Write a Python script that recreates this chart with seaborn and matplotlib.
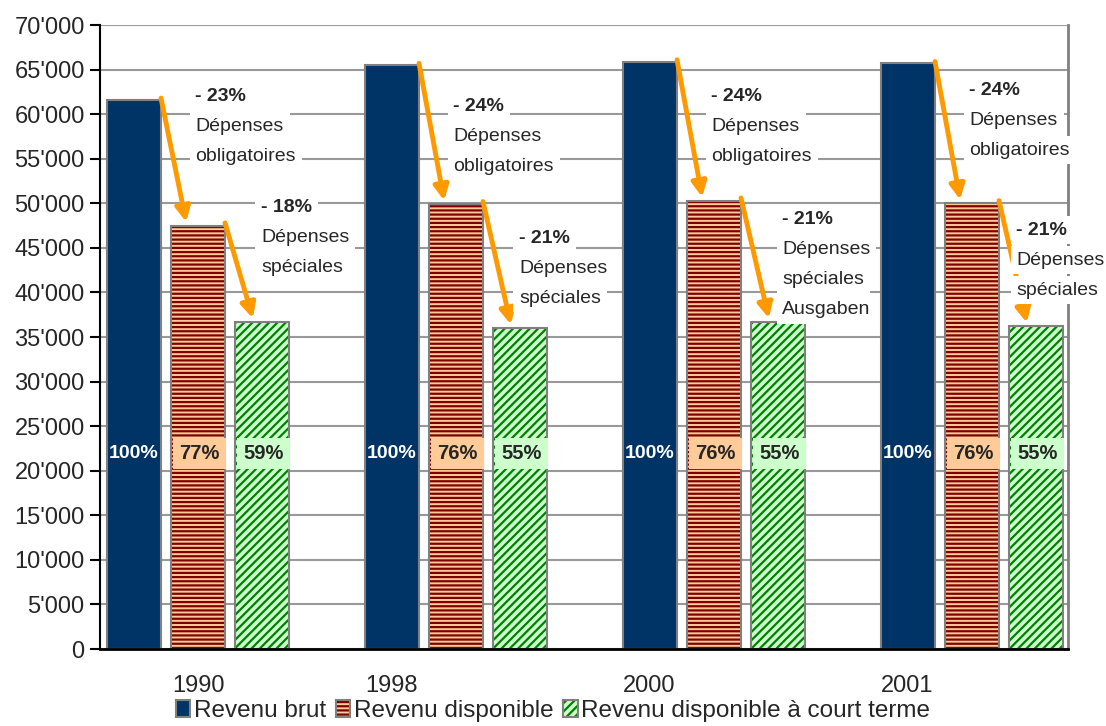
import matplotlib
matplotlib.use("Agg")
import matplotlib.pyplot as plt
import matplotlib.colors as mcolors
from matplotlib.patches import Patch
from matplotlib.ticker import FuncFormatter, MultipleLocator
import pandas as pd
import seaborn as sns

years = ["1990", "1998", "2000", "2001"]
series = ["Revenu brut", "Revenu disponible", "Revenu disponible à court terme"]
revenu_brut = [61600, 65500, 65900, 65700]
revenu_dispo = [47500, 49900, 50300, 50000]
revenu_court = [36700, 36000, 36700, 36200]

pct_brut = ["100%", "100%", "100%", "100%"]
pct_dispo = ["77%", "76%", "76%", "76%"]
pct_court = ["59%", "55%", "55%", "55%"]
baisse_oblig = ["- 23%", "- 24%", "- 24%", "- 24%"]
baisse_spec = ["- 18%", "- 21%", "- 21%", "- 21%"]
texte_oblig = [["Dépenses", "obligatoires"]] * 4
texte_spec = [["Dépenses", "spéciales"], ["Dépenses", "spéciales"],
              ["Dépenses", "spéciales", "Ausgaben"], ["Dépenses", "spéciales"]]

# layout of the annotations (data units)
oblig_y = [62000, 60900, 62000, 62700]
spec_y = [49500, 46100, 48200, 47000]
spec_dx = [0.245, 0.245, 0.265, 0.172]
pct_y = 21900

navy = "#003366"
peach = "#FFCC99"
dark_red = "#800000"
light_green = "#CCFFCC"
green = "#008000"
orange = "#FF9900"
edge = "#808080"

df = pd.DataFrame({
    "annee": years * 3,
    "serie": [s for s in series for _ in years],
    "valeur": revenu_brut + revenu_dispo + revenu_court,
})

sns.set_style("ticks")
plt.rcParams["font.family"] = ["Liberation Sans", "DejaVu Sans"]
plt.rcParams["hatch.linewidth"] = 1.6

fig = plt.figure(figsize=(11.06, 7.26), dpi=100)
ax = fig.add_axes([100 / 1106, 77 / 726, 968 / 1106, 624 / 726])

sns.barplot(data=df, x="annee", y="valeur", hue="serie", hue_order=series,
            palette=[navy, peach, light_green], saturation=1,
            width=0.744, gap=0.157, edgecolor=edge, linewidth=1.5,
            legend=False, ax=ax, zorder=2)


def hatch_bars(container, hatch, hcolor):
    for p in container:
        p.set_hatch(hatch)
        p.set_edgecolor(edge)
        if hasattr(p, "set_hatchcolor"):
            p.set_hatchcolor(hcolor)
        else:
            p._hatch_color = mcolors.to_rgba(hcolor)


brut_bars, dispo_bars, court_bars = ax.containers
hatch_bars(dispo_bars, "----", dark_red)
hatch_bars(court_bars, "////", green)

ax.set_ylim(0, 70000)
ax.set_xlim(-0.38, 3.372)
ax.yaxis.set_major_locator(MultipleLocator(5000))
ax.yaxis.set_major_formatter(FuncFormatter(lambda v, _: f"{int(v):,}".replace(",", "'")))
ax.grid(axis="y", color="#999999", linewidth=1.5)
ax.set_axisbelow(True)
ax.set_xlabel("")
ax.set_ylabel("")

# year labels sit under the first bar, except 1990
ax.set_xticks([0, 0.75, 1.75, 2.75])
ax.set_xticklabels(years)
ax.tick_params(axis="x", length=0, pad=19, labelsize=17)
ax.tick_params(axis="y", length=7, width=1.5, color="black", labelsize=17, pad=4)

for side in ["left", "bottom"]:
    ax.spines[side].set_color("black")
ax.spines["left"].set_linewidth(1.5)
ax.spines["bottom"].set_linewidth(2)
ax.spines["right"].set_color(edge)
ax.spines["right"].set_linewidth(2)
ax.spines["top"].set_visible(False)

arrow = dict(arrowstyle="-|>", color=orange, lw=3.5, mutation_scale=22,
             shrinkA=0, shrinkB=0)

for i in range(len(years)):
    b, d, c = brut_bars[i], dispo_bars[i], court_bars[i]

    # arrows brut -> disponible -> court terme
    ax.annotate("", xy=(d.get_x() + 0.28 * d.get_width(), d.get_height() + 400),
                xytext=(b.get_x() + b.get_width(), b.get_height() + 200),
                arrowprops=arrow, zorder=3)
    ax.annotate("", xy=(c.get_x() + 0.33 * c.get_width(), c.get_height() + 400),
                xytext=(d.get_x() + d.get_width(), d.get_height() + 300),
                arrowprops=arrow, zorder=3)

    # drop labels
    box = dict(boxstyle="square,pad=0.3", fc="white", ec="none")
    for lines, x0, y0 in [([baisse_oblig[i]] + texte_oblig[i], i - 0.01, oblig_y[i]),
                          ([baisse_spec[i]] + texte_spec[i], i + spec_dx[i], spec_y[i])]:
        for k, line in enumerate(lines):
            ax.annotate(line, xy=(x0, y0), xytext=(0, -21.6 * k), textcoords="offset points",
                        ha="left", va="center", fontsize=14,
                        fontweight="bold" if k == 0 else "normal",
                        bbox=box, zorder=5, annotation_clip=False)

    # percentage labels
    ax.text(b.get_x() + b.get_width() / 2, pct_y, pct_brut[i], ha="center", va="center",
            color="white", fontsize=14, fontweight="bold", zorder=4)
    ax.text(d.get_x() + d.get_width() / 2 + 0.005, pct_y, pct_dispo[i], ha="center", va="center",
            fontsize=14.5, fontweight="bold", zorder=4,
            bbox=dict(boxstyle="square,pad=0.3", fc=peach, ec="none"))
    ax.text(c.get_x() + c.get_width() / 2 + 0.005, pct_y, pct_court[i], ha="center", va="center",
            fontsize=14.5, fontweight="bold", zorder=4,
            bbox=dict(boxstyle="square,pad=0.3", fc=light_green, ec="none"))

handles = [
    Patch(facecolor=navy, edgecolor=edge, linewidth=1.5),
    Patch(facecolor=peach, edgecolor=edge, linewidth=1.5, hatch="----"),
    Patch(facecolor=light_green, edgecolor=edge, linewidth=1.5, hatch="////"),
]
hatch_bars(handles[1:2], "----", dark_red)
hatch_bars(handles[2:3], "////", green)

fig.legend(handles, series, loc="lower center", bbox_to_anchor=(0.5, -0.018), ncol=3,
           frameon=False, fontsize=17.5, handlelength=0.6, handleheight=0.7,
           handletextpad=0.15, columnspacing=0.4, borderpad=0.2)

fig.savefig("out.png", dpi=100)
